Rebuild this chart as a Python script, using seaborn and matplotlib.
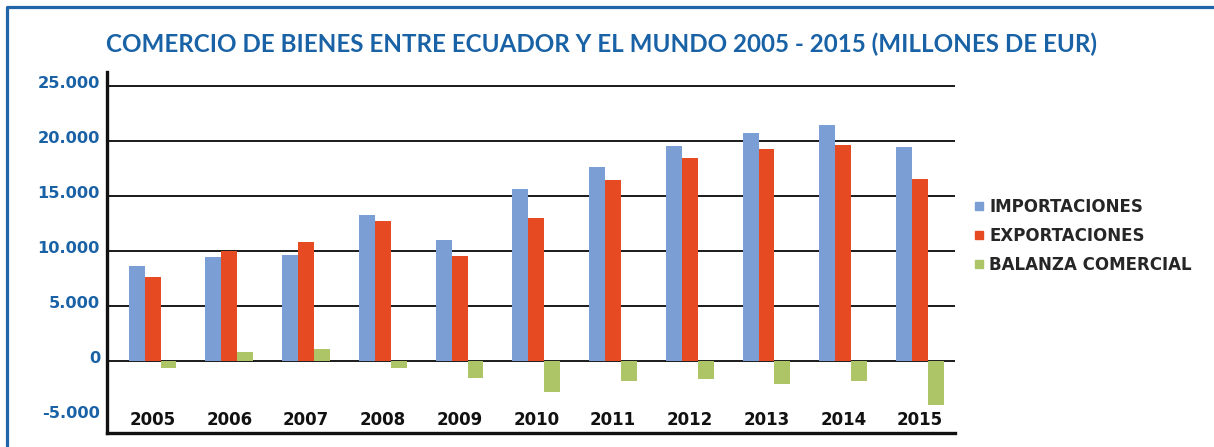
import pandas as pd
import numpy as np
import matplotlib
matplotlib.use("Agg")
import matplotlib.pyplot as plt
from matplotlib.ticker import FuncFormatter
from matplotlib.lines import Line2D
from matplotlib.transforms import ScaledTranslation
import seaborn as sns

# values (millions of EUR)
years = ['2005', '2006', '2007', '2008', '2009', '2010', '2011', '2012', '2013', '2014', '2015']
importaciones = [8650, 9470, 9650, 13300, 11020, 15660, 17670, 19580, 20760, 21490, 19490]
exportaciones = [7650, 10020, 10840, 12750, 9560, 13020, 16480, 18490, 19310, 19670, 16580]
balanza = [-610, 820, 1090, -600, -1550, -2800, -1820, -1640, -2100, -1820, -4010]
series_names = ['IMPORTACIONES', 'EXPORTACIONES', 'BALANZA COMERCIAL']
colors = ['#7b9fd4', '#e64a23', '#adc566']
yticks = [-5000, 0, 5000, 10000, 15000, 20000, 25000]

df = pd.DataFrame({'year': years * 3,
                   'serie': np.repeat(series_names, len(years)),
                   'valor': importaciones + exportaciones + balanza})

sns.set_style('white')
plt.rcParams['font.family'] = ['DejaVu Sans']

blue = '#1a62a6'
fig = plt.figure(figsize=(12.14, 4.47), dpi=100)
ax = fig.add_axes([107 / 1214, 14 / 447, 848 / 1214, 361 / 447])

sns.barplot(data=df, x='year', y='valor', hue='serie', palette=colors,
            width=0.625, ax=ax, legend=False, saturation=1, linewidth=0)

ax.set_xlim(-0.593, 10.456)
ax.set_ylim(-6557, 26320)
ax.set_yticks(yticks)
ax.yaxis.set_major_formatter(FuncFormatter(lambda v, p: f"{v:,.0f}".replace(",", ".")))
for t in yticks:
    if t >= 0:
        ax.axhline(t, color='#1a1a1a', lw=1.4, zorder=0)
ax.set_xlabel('')
ax.set_ylabel('')

ax.tick_params(axis='y', length=0, pad=5, labelsize=11.7, labelcolor=blue)
ax.tick_params(axis='x', length=0, pad=-16, labelsize=12, labelcolor='#111111')
for lab in ax.get_yticklabels() + ax.get_xticklabels():
    lab.set_fontweight('bold')
# y labels sit a little above their gridlines in the original
for lab in ax.get_yticklabels():
    lab.set_transform(lab.get_transform() + ScaledTranslation(0, 4 / 100, fig.dpi_scale_trans))

for s in ['top', 'right']:
    ax.spines[s].set_visible(False)
for s in ['left', 'bottom']:
    ax.spines[s].set_color('#111111')
    ax.spines[s].set_linewidth(2.4)

handles = [Line2D([], [], marker='s', color=c, ls='', markersize=6) for c in colors]
fig.legend(handles, series_names, loc='center left', bbox_to_anchor=(974 / 1214, 1 - 236 / 447),
           frameon=False, handlelength=0.6, handletextpad=0.3, borderpad=0, borderaxespad=0,
           labelspacing=0.65, prop={'size': 12, 'weight': 'bold'})

fig.text(602 / 1214, 1 - 44 / 447,
         'COMERCIO DE BIENES ENTRE ECUADOR Y EL MUNDO 2005 - 2015 (MILLONES DE EUR)',
         ha='center', va='center', color=blue, fontsize=17.4, fontweight='bold',
         family=['Lato', 'DejaVu Sans'])

# blue frame around the chart
fig.add_artist(Line2D([7 / 1214, 7 / 1214, 1], [0, 1 - 7 / 447, 1 - 7 / 447],
                      color='#1f65a8', lw=2.3, transform=fig.transFigure))

fig.savefig('out.png', dpi=100)
